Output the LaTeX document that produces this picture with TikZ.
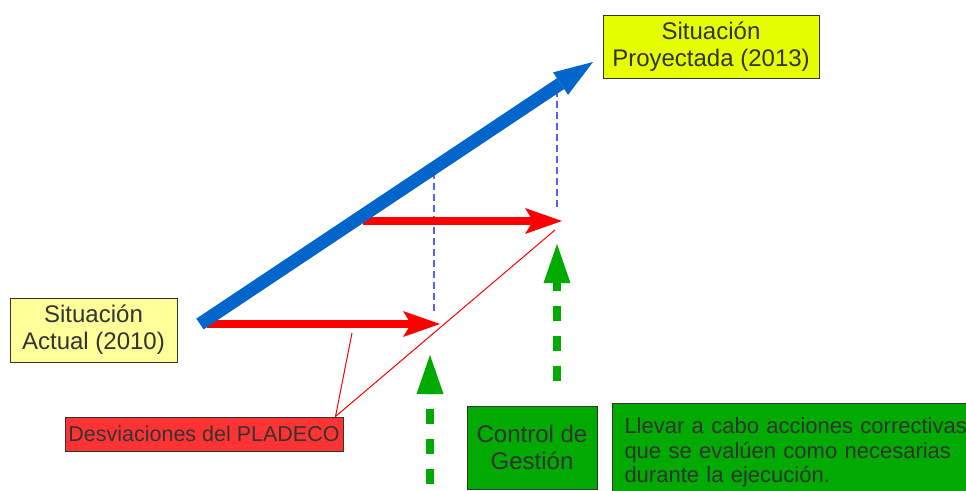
\documentclass[tikz,border=0pt]{standalone}
\usepackage{fontspec}
\setmainfont{Liberation Sans}
\usetikzlibrary{arrows.meta}
\definecolor{boxtext}{HTML}{333333}
\definecolor{paleyellow}{HTML}{FFFF99}
\definecolor{lemon}{HTML}{E6FF00}
\definecolor{devred}{HTML}{FF3333}
\definecolor{ctrlgreen}{HTML}{00AA00}
\definecolor{planblue}{HTML}{0066CC}
\definecolor{guideblue}{HTML}{5C5CFF}

\begin{document}
\begin{tikzpicture}[x=1pt, y=-1pt,
  box/.style={draw=boxtext, line width=1pt, text=boxtext, inner sep=0pt, align=center, font=\fontsize{24}{27}\selectfont},
  guide/.style={guideblue, line width=1.4pt, dash pattern=on 7pt off 4pt},
  devarrow/.style={red, line width=8pt, -{Stealth[length=37pt, width=26pt, inset=8pt, line width=0pt]}},
  ctrlarrow/.style={ctrlgreen, line width=8pt, dash pattern=on 15pt off 15pt, -{Triangle[length=39pt, width=27pt, line width=0pt]}}]
\useasboundingbox (0,0) rectangle (966,490);

\node[box, fill=paleyellow, minimum width=167, minimum height=64] (actual) at (93.5,330) {Situación\\Actual (2010)};
\node[box, fill=lemon, minimum width=216, minimum height=63] (projected) at (711,46.5) {Situación\\Proyectada (2013)};
\node[box, fill=devred, minimum width=278, minimum height=34, font=\fontsize{21.5}{25}\selectfont] (deviation) at (204,434) {Desviaciones del PLADECO};
\node[box, fill=ctrlgreen, minimum width=130, minimum height=83] (control) at (532,447.5) {Control de\\Gestión};
\node[box, fill=ctrlgreen, anchor=north west, minimum height=98, text width=370, align=left, inner xsep=12, font=\fontsize{22}{24.5}\selectfont] (action) at (612,403) {Llevar a cabo acciones correctivas\\que se evalúen como necesarias\\durante la ejecución.};

\coordinate (start) at (200,324);
\coordinate (goal) at (593,62);
\coordinate (lowtail) at (207,324);
\coordinate (lowhead) at (440,324);
\coordinate (uptail) at (363,221);
\coordinate (uphead) at (562,221);
\coordinate (midtop) at (434,172);
\coordinate (midbot) at (434,315);
\coordinate (endtop) at (557,90);
\coordinate (endbot) at (557,210);
\coordinate (devtip) at ([xshift=-8pt]deviation.north east);
\coordinate (devleft) at (352,333);
\coordinate (devright) at (555,230);
\coordinate (ctrltailA) at (430,484);
\coordinate (ctrlheadA) at (430,355);
\coordinate (ctrltailB) at (557,381);
\coordinate (ctrlheadB) at (557,244);

\draw[guide] (midtop) -- (midbot);
\draw[guide] (endtop) -- (endbot);
\draw[red, line width=1pt] (devleft) -- (devtip) -- (devright);
\draw[devarrow] (lowtail) -- (lowhead);
\draw[devarrow] (uptail) -- (uphead);
\draw[planblue, line width=13pt, -{Triangle[length=39pt, width=27pt, line width=0pt]}] (start) -- (goal);
\draw[ctrlarrow] (ctrltailA) -- (ctrlheadA);
\draw[ctrlarrow] (ctrltailB) -- (ctrlheadB);

\end{tikzpicture}
\end{document}
